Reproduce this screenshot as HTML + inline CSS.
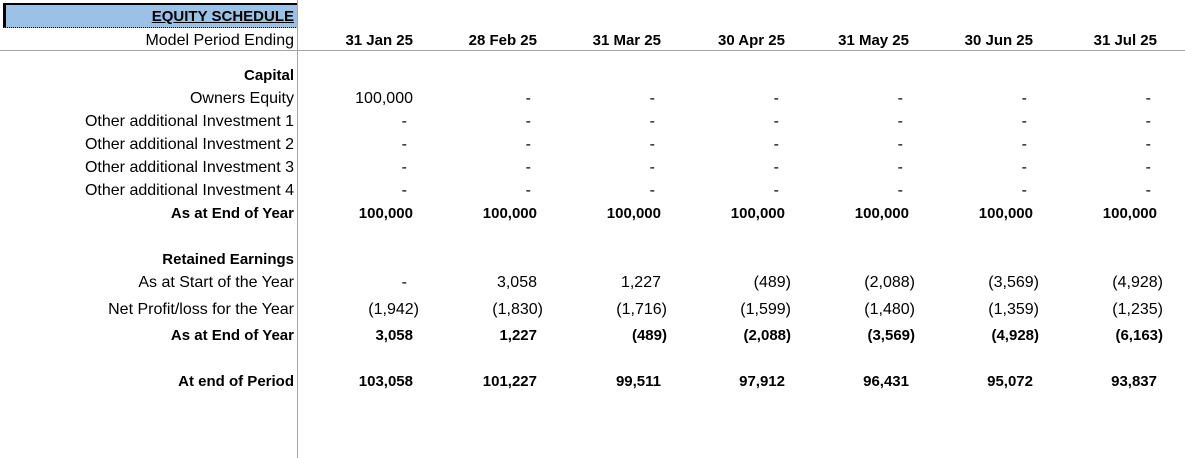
<!DOCTYPE html>
<html><head><style>
body{margin:0;width:1185px;height:458px;background:#fff;position:relative;overflow:hidden;font-family:"Liberation Sans",sans-serif;font-size:16px;color:#000}
.t{position:absolute;white-space:nowrap;line-height:16px}
.l{right:891px;text-align:right}
.b{font-weight:bold;font-size:15px}
</style></head><body>
<div style="position:absolute;left:3px;top:3px;width:292px;height:22px;background:#9bc2e6;border-top:2px solid #000;border-left:3px solid #000;border-bottom:1px dotted #000"></div>
<div style="position:absolute;left:297px;top:0;width:1px;height:458px;background:#a6a6a6"></div>
<div style="position:absolute;left:0;top:50px;width:1185px;height:1px;background:#a6a6a6"></div>
<div id="c"></div>
<script>
var rows=[
[8,"EQUITY SCHEDULE",1,1],[32,"Model Period Ending",0],[67,"Capital",1],[90,"Owners Equity",0],[113,"Other additional Investment 1",0],[136,"Other additional Investment 2",0],[159,"Other additional Investment 3",0],[182,"Other additional Investment 4",0],[205,"As at End of Year",1],[251,"Retained Earnings",1],[274,"As at Start of the Year",0],[301,"Net Profit/loss for the Year",0],[327,"As at End of Year",1],[373,"At end of Period",1]];
var h="";
rows.forEach(function(r){h+='<div class="t l'+(r[2]?' b':'')+'" style="top:'+(r[0]+1)+'px;'+(r[3]?'text-decoration:underline;':'')+'">'+r[1]+'</div>';});
var data=[
[32,1,["31 Jan 25","28 Feb 25","31 Mar 25","30 Apr 25","31 May 25","30 Jun 25","31 Jul 25"]],
[90,0,["100,000","-","-","-","-","-","-"]],
[113,0,["-","-","-","-","-","-","-"]],
[136,0,["-","-","-","-","-","-","-"]],
[159,0,["-","-","-","-","-","-","-"]],
[182,0,["-","-","-","-","-","-","-"]],
[205,1,["100,000","100,000","100,000","100,000","100,000","100,000","100,000"]],
[274,0,["-","3,058","1,227","(489)","(2,088)","(3,569)","(4,928)"]],
[301,0,["(1,942)","(1,830)","(1,716)","(1,599)","(1,480)","(1,359)","(1,235)"]],
[327,1,["3,058","1,227","(489)","(2,088)","(3,569)","(4,928)","(6,163)"]],
[373,1,["103,058","101,227","99,511","97,912","96,431","95,072","93,837"]]];
data.forEach(function(d){d[2].forEach(function(v,i){var r=413+124*i;if(v[0]=="(")r+=6;else if(v=="-")r-=6;
h+='<div class="t'+(d[1]?' b':'')+'" style="top:'+(d[0]+1)+'px;right:'+(1185-r)+'px">'+v+'</div>';});});
document.getElementById("c").innerHTML=h;
</script>
</body></html>
